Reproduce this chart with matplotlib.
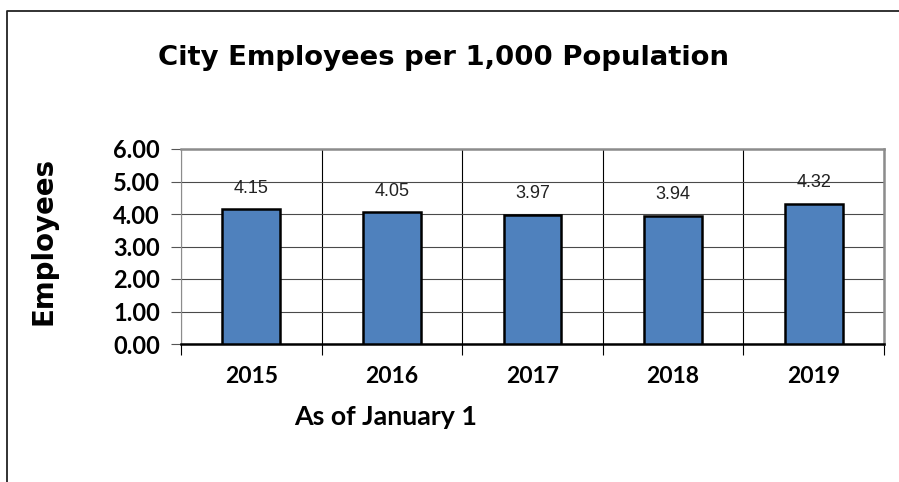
import matplotlib
matplotlib.use("Agg")
import matplotlib.pyplot as plt
from matplotlib.lines import Line2D
import numpy as np

years = ["2015", "2016", "2017", "2018", "2019"]
employees = [4.15, 4.05, 3.97, 3.94, 4.32]
yticks = [0, 1, 2, 3, 4, 5, 6]
ytick_labels = ["0.00", "1.00", "2.00", "3.00", "4.00", "5.00", "6.00"]

W, H = 899, 482
fig = plt.figure(figsize=(W / 100, H / 100), dpi=100)
fig.patch.set_facecolor("white")

lato = ["Lato", "DejaVu Sans"]
wide = ["DejaVu Sans"]

ax = fig.add_axes([181 / W, 1 - 344 / H, (884 - 181) / W, (344 - 149) / H])
x = np.arange(len(years))
ax.bar(x, employees, width=0.41, color="#4F81BD", edgecolor="black",
       linewidth=1.8, zorder=3)
ax.set_xlim(-0.5, len(years) - 0.5)
ax.set_ylim(0, 6)
ax.set_yticks(yticks)
ax.set_yticklabels(ytick_labels, fontsize=17, fontweight="bold", family=lato)
ax.set_xticks(x)
ax.set_xticklabels(years, fontsize=16.5, fontweight="bold", family=lato)
ax.tick_params(axis="x", length=0, pad=16)
ax.tick_params(axis="y", length=7, width=0.8, color="#555555", pad=8)

# category separators (minor ticks + vertical gridlines)
ax.set_xticks(np.arange(-0.5, len(years) + 0.5, 1), minor=True)
ax.tick_params(axis="x", which="minor", length=8, width=0.8, color="black")
ax.grid(axis="x", which="minor", color="black", linewidth=0.8, zorder=1)
ax.grid(axis="y", which="major", color="#4a4a4a", linewidth=0.8, zorder=1)
ax.grid(axis="x", which="major", visible=False)

for s in ["top", "right"]:
    ax.spines[s].set_color("#8c8c8c")
    ax.spines[s].set_linewidth(1.8)
ax.spines["left"].set_color("#8c8c8c")
ax.spines["left"].set_linewidth(0.8)
ax.spines["bottom"].set_color("black")
ax.spines["bottom"].set_linewidth(1.8)

for xi, v in zip(x, employees):
    ax.annotate(f"{v:.2f}", (xi, v), xytext=(0, 9), textcoords="offset points",
                ha="center", va="bottom", fontsize=13, family="Liberation Sans",
                color="#222222")

title = fig.text(444 / W, 1 - 65 / H, "City Employees per 1,000 Population",
                 ha="center", va="baseline", fontsize=20, fontweight="bold",
                 family=wide)
xlab = fig.text(386 / W, 1 - 425 / H, "As of January 1", ha="center",
                va="baseline", fontsize=19, fontweight="bold", family=lato)
ylab = fig.text(44 / W, 1 - 241 / H, "Employees", ha="center", va="center",
                rotation=90, fontsize=20, fontweight="bold", family=wide)

# fit text sizes to the measured extents of the reference
fig.canvas.draw()
r = fig.canvas.get_renderer()
for t, target, dim in [(title, 572, "w"), (xlab, 183, "w"), (ylab, 168, "h")]:
    bb = t.get_window_extent(r)
    cur = bb.width if dim == "w" else bb.height
    t.set_fontsize(t.get_fontsize() * target / cur)

# outer frame (left and top edges)
fx = 6.5 / W
fy = 1 - 11 / H
fig.add_artist(Line2D([fx, fx, 1], [0, fy, fy], transform=fig.transFigure,
                      color="#222222", linewidth=1.3))

fig.savefig("out.png", dpi=100)
